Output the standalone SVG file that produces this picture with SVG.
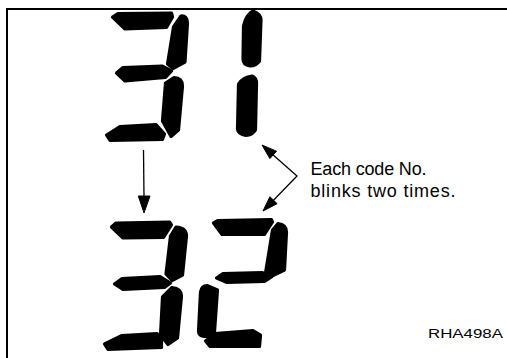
<svg xmlns="http://www.w3.org/2000/svg" width="507" height="358" viewBox="0 0 507 358">
<defs>
<style>
.seg{fill:#000;stroke:#000;stroke-width:3.2;stroke-linejoin:round}
.frame{stroke:#000;stroke-width:2;fill:none}
.ln{stroke:#000;stroke-width:1.3;fill:none}
.hd{fill:#000;stroke:#000;stroke-width:1;stroke-linejoin:round}
.lbl{font-family:"Liberation Sans",Arial,sans-serif;fill:#000}
</style>
</defs>
<rect width="507" height="358" fill="#fff"/>
<g id="frame">
<line class="frame" x1="6" y1="9" x2="507" y2="9"/>
<line class="frame" x1="7" y1="8" x2="7" y2="358"/>
</g>
<g id="digit-31">
<path class="seg" d="M112.5,17 L118,13.5 L171.5,13 L172.5,17 L166.5,27.5 L125,29 Z"/>
<path class="seg" d="M173.5,27 L181,16 Q187.5,15.5 187.5,23 L185,62 L173,68.5 L167.5,64 Z"/>
<path class="seg" d="M116.5,73 L123,67.5 L162,66 L171.5,71 L165.5,77.5 L125,81 Z"/>
<path class="seg" d="M165.5,83 L174,77.5 Q182.5,78 182.5,86 L178.5,130 L171,136.5 L162.5,121 Z"/>
<path class="seg" d="M106.5,135 L120,126.5 L156,124.5 L164.5,134 L162.5,139.5 L110,140.5 Z"/>
<path class="seg" d="M253,11 Q261,14 261,20 L259.5,61 Q256,66 250,66 Q243,65 243,59 L243.5,26 Q246,15 253,11 Z"/>
<path class="seg" d="M252,76 Q257,78 256.5,84 L255.5,130 Q252,135.5 246,135.5 Q238,134 237.5,129 L238.5,84 Q243,77 252,76 Z"/>
</g>
<g id="digit-32">
<path class="seg" d="M111.5,227 L116,223 L169.5,222 L171.5,225 L163.5,237.5 L123,238 Z"/>
<path class="seg" d="M170.5,236 L176,227 Q186.5,227.5 186.5,236 L182.5,275 L172,280.5 L166,274 Z"/>
<path class="seg" d="M114.5,284 L122,278.5 L160,276.5 L170.5,283 L164.5,287.5 L123,289.5 Z"/>
<path class="seg" d="M162.5,297 L172,287.5 Q181.5,288.5 181.5,296 L177.5,338 L168,344.5 L160.5,335 Z"/>
<path class="seg" d="M104.5,344 L122,335.5 L157,333.5 L161.5,340 L161.5,347.5 L108,349.5 Z"/>
<path class="seg" d="M213.5,223 L218,220.5 L271.5,219.5 L272.5,222 L264.5,234.5 L222,234.5 Z"/>
<path class="seg" d="M272.5,230 L278,223.5 Q286.5,224.5 286.5,232 L284.5,270 L271,276.5 L265.5,273 Z"/>
<path class="seg" d="M216.5,278 L223,273.5 L262,272.5 L271.5,277 L264.5,281.5 L227,282.5 Z"/>
<path class="seg" d="M200.5,292 Q201.5,285.5 207,285.5 L217.5,290 L214.5,332 Q211.5,336.5 204,336.5 Q198.5,335.5 198.5,331 Z"/>
<path class="seg" d="M205.5,341 L215,333.5 L253,330.5 L260.5,335 L259.5,346.5 L210,346.5 Z"/>
</g>
<g id="connectors">
<line class="ln" x1="143.5" y1="150" x2="144" y2="198"/>
<polygon class="hd" points="138.3,196 150,196 144,213"/>
<polyline class="ln" points="273.2,154.9 297,176 273.5,200.2"/>
<polygon class="hd" points="262,145 276.5,151.2 269.9,158.6"/>
<polygon class="hd" points="263,211 277.1,203.7 269.9,196.7"/>
</g>
<g id="label">
<text class="lbl" x="310.5" y="175" font-size="18" textLength="116" lengthAdjust="spacing">Each code No.</text>
<text class="lbl" x="310.5" y="197" font-size="18" textLength="145" lengthAdjust="spacing">blinks two times.</text>
</g>
<g id="code">
<text class="lbl" x="428" y="338" font-size="12.5" textLength="75" lengthAdjust="spacingAndGlyphs">RHA498A</text>
</g>
</svg>
